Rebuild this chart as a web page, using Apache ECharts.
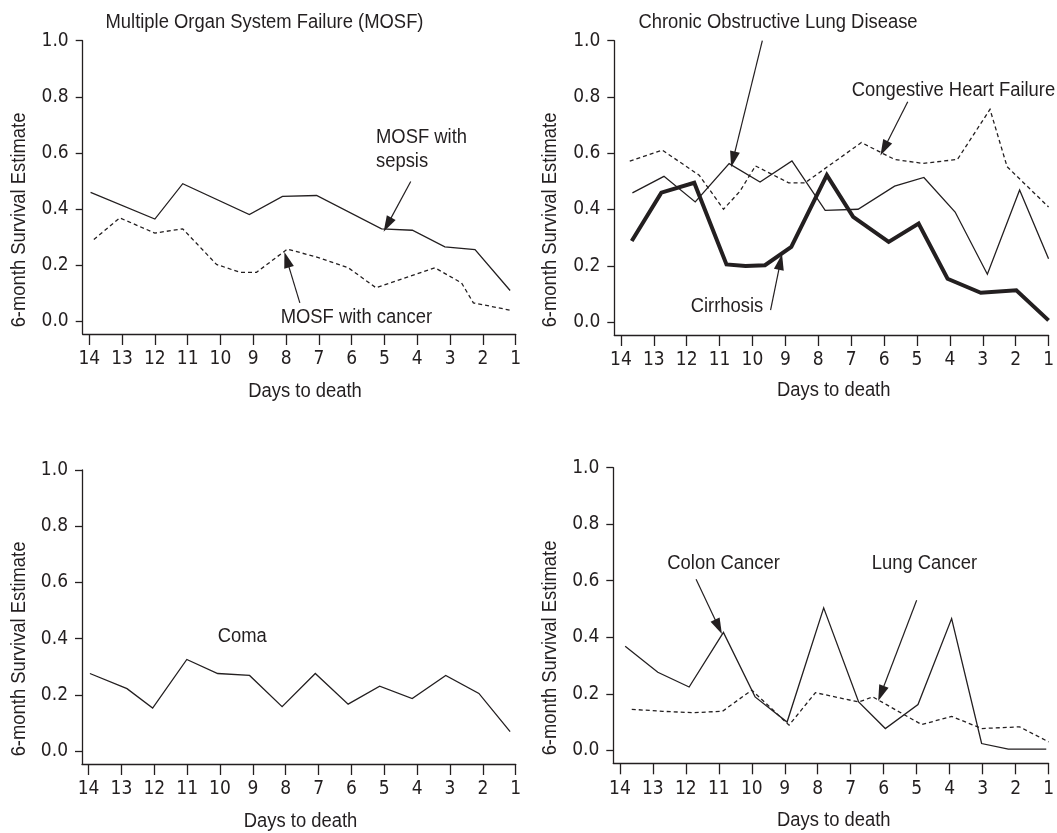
<!DOCTYPE html>
<html>
<head>
<meta charset="utf-8">
<script src="https://cdn.jsdelivr.net/npm/echarts@6/dist/echarts.min.js"></script>
<style>
html,body{margin:0;padding:0;background:#fff;}
#chart{width:1057px;height:833px;}
</style>
</head>
<body>
<div id="chart"></div>
<script>
// ---- tick labels ----
const dayTicks = [14, 13, 12, 11, 10, 9, 8, 7, 6, 5, 4, 3, 2, 1];
const survTicks = [0, 0.2, 0.4, 0.6, 0.8, 1.0];

// ---- Panel 1: MOSF ----
const sepsisDays = [13.96, 12.0, 11.15, 9.12, 8.11, 7.07, 5.09, 4.15, 3.16, 2.24, 1.17];
const sepsisSurv = [0.459, 0.364, 0.490, 0.380, 0.445, 0.448, 0.329, 0.324, 0.265, 0.255, 0.109];
const cancerDays = [13.86, 13.07, 12.0, 11.15, 10.12, 9.41, 8.90, 7.96, 6.97, 6.10, 5.26, 3.46, 2.65, 2.29, 1.17];
const cancerSurv = [0.291, 0.368, 0.314, 0.329, 0.202, 0.174, 0.174, 0.257, 0.225, 0.190, 0.119, 0.190, 0.136, 0.065, 0.039];

// ---- Panel 2: COPD / CHF / Cirrhosis ----
const copdDays = [13.65, 12.69, 11.74, 10.71, 9.77, 8.80, 7.79, 6.79, 5.68, 4.79, 3.84, 2.86, 1.88, 1.0];
const copdSurv = [0.459, 0.518, 0.427, 0.563, 0.498, 0.573, 0.397, 0.401, 0.483, 0.514, 0.391, 0.170, 0.469, 0.225];
const chfDays = [13.73, 12.74, 11.62, 10.88, 10.38, 9.91, 8.90, 8.40, 6.69, 5.68, 4.82, 3.77, 2.78, 2.26, 1.0];
const chfSurv = [0.572, 0.611, 0.522, 0.401, 0.465, 0.555, 0.495, 0.495, 0.638, 0.578, 0.564, 0.578, 0.756, 0.552, 0.409];
const cirrDays = [13.67, 12.77, 11.77, 10.79, 10.21, 9.62, 8.82, 7.74, 6.94, 5.86, 4.95, 4.07, 3.06, 1.98, 1.0];
const cirrSurv = [0.288, 0.460, 0.495, 0.205, 0.199, 0.202, 0.267, 0.522, 0.374, 0.285, 0.350, 0.154, 0.104, 0.113, 0.006];

// ---- Panel 3: Coma ----
const comaDays = [13.96, 12.83, 12.05, 11.01, 10.07, 9.10, 8.11, 7.10, 6.10, 5.14, 4.15, 3.13, 2.12, 1.17];
const comaSurv = [0.276, 0.222, 0.153, 0.326, 0.276, 0.269, 0.158, 0.276, 0.167, 0.231, 0.187, 0.269, 0.205, 0.069];

// ---- Panel 4: Colon / Lung cancer ----
const colonDays = [13.84, 12.85, 11.90, 10.86, 9.90, 8.93, 7.82, 6.76, 5.95, 4.96, 3.94, 3.03, 2.22, 1.07];
const colonSurv = [0.368, 0.276, 0.224, 0.417, 0.189, 0.100, 0.504, 0.171, 0.077, 0.162, 0.466, 0.024, 0.004, 0.004];
const lungDays = [13.64, 12.70, 11.79, 10.89, 10.0, 8.87, 8.07, 6.76, 6.33, 4.85, 3.94, 3.03, 1.88, 1.0];
const lungSurv = [0.145, 0.138, 0.133, 0.138, 0.213, 0.089, 0.204, 0.171, 0.189, 0.091, 0.120, 0.077, 0.083, 0.030];

// ---- annotation arrows (data space: [fromDay, fromSurv, toDay, toSurv]) ----
const arrowSepsis = [4.20, 0.498, 4.91, 0.344];
const arrowCancer = [7.58, 0.065, 7.98, 0.219];
const arrowCopd = [9.70, 1.0, 10.59, 0.578];
const arrowChf = [5.28, 0.783, 6.00, 0.617];
const arrowCirr = [9.45, 0.042, 9.15, 0.214];
const arrowColon = [11.69, 0.605, 11.01, 0.437];
const arrowLung = [5.00, 0.531, 6.08, 0.201];

const TICK_FONT = '"DejaVu Sans Condensed", "Liberation Sans", sans-serif';
const TEXT_FONT = '"Liberation Sans", Arial, sans-serif';
const INK = '#231f20';

const zip = (a, b) => a.map((v, i) => [v, b[i]]);

function arrow(a) {
  return {
    silent: true,
    animation: false,
    symbol: ['none', 'none'],
    label: { show: false },
    emphasis: { disabled: true },
    lineStyle: { color: INK, width: 1.2, type: 'solid' },
    itemStyle: { color: INK },
    data: [[
      { coord: [a[0], a[1]], symbol: 'none' },
      { coord: [a[2], a[3]], symbol: 'path://M5,0L10,16L0,16Z', symbolSize: [10, 16] }
    ]]
  };
}

function line(gi, days, surv, opts) {
  const s = {
    type: 'line',
    xAxisIndex: gi,
    yAxisIndex: gi,
    data: zip(days, surv),
    showSymbol: false,
    symbol: 'none',
    clip: false,
    animation: false,
    silent: true,
    lineStyle: { color: INK, width: opts.width || 1.3, type: opts.dash ? [4, 3] : 'solid', cap: 'butt', join: 'miter' },
    itemStyle: { color: INK }
  };
  if (opts.arrows) {
    s.markLine = arrow(opts.arrows[0]);
  }
  return s;
}

const grids = [
  { left: 82.7, right: 541.3, top: 40.7, bottom: 499 },
  { left: 614.3, right: 5.3, top: 40.7, bottom: 498 },
  { left: 82, right: 541.3, top: 470, bottom: 69 },
  { left: 613.3, right: 6.3, top: 467.7, bottom: 69.7 }
];

const axisLineStyle = { color: INK, width: 1.3 };

const xAxes = grids.map((g, i) => ({
  gridIndex: i,
  type: 'value',
  inverse: true,
  min: 1,
  max: 14.2,
  axisLine: { show: true, onZero: false, lineStyle: axisLineStyle },
  axisTick: { show: true, length: 11, customValues: dayTicks, lineStyle: axisLineStyle },
  axisLabel: { customValues: dayTicks, margin: 16, fontSize: 19, color: INK, fontFamily: TICK_FONT },
  splitLine: { show: false }
}));

const yAxes = grids.map((g, i) => ({
  gridIndex: i,
  type: 'value',
  min: -0.046,
  max: 1.0,
  axisLine: { show: true, onZero: false, lineStyle: axisLineStyle },
  axisTick: { show: true, length: 7, customValues: survTicks, lineStyle: axisLineStyle },
  axisLabel: { customValues: survTicks, margin: 14, fontSize: 19, color: INK, fontFamily: TICK_FONT,
    formatter: v => Number(v).toFixed(1) },
  splitLine: { show: false }
}));

const SX = 0.92;
function txt(text, x, y, align, rot) {
  return {
    type: 'text',
    x: x, y: y,
    rotation: rot || 0,
    scaleX: SX,
    silent: true,
    style: { text: text, fill: INK, font: '20px ' + TEXT_FONT, textAlign: align || 'left', textVerticalAlign: 'middle' }
  };
}

const yName = '6-month Survival Estimate';
const xName = 'Days to death';
const graphics = [
  txt('Multiple Organ System Failure (MOSF)', 264.5, 22, 'center'),
  txt('MOSF with', 376, 137, 'left'),
  txt('sepsis', 376, 161, 'left'),
  txt('MOSF with cancer', 280.7, 317, 'left'),
  txt('Chronic Obstructive Lung Disease', 778, 22, 'center'),
  txt('Congestive Heart Failure', 851.7, 90, 'left'),
  txt('Cirrhosis', 690.7, 306, 'left'),
  txt('Coma', 217.7, 636, 'left'),
  txt('Colon Cancer', 667.3, 563, 'left'),
  txt('Lung Cancer', 871.7, 563, 'left'),
  txt(yName, 19, 220, 'center', Math.PI / 2),
  txt(yName, 550, 220, 'center', Math.PI / 2),
  txt(yName, 19, 649, 'center', Math.PI / 2),
  txt(yName, 550, 648, 'center', Math.PI / 2),
  txt(xName, 305, 391, 'center'),
  txt(xName, 833.7, 390, 'center'),
  txt(xName, 300.5, 821.5, 'center'),
  txt(xName, 833.8, 820, 'center')
];

const series = [
  line(0, sepsisDays, sepsisSurv, { arrows: [arrowSepsis] }),
  line(0, cancerDays, cancerSurv, { dash: true, arrows: [arrowCancer] }),
  line(1, chfDays, chfSurv, { dash: true, arrows: [arrowChf] }),
  line(1, copdDays, copdSurv, { arrows: [arrowCopd] }),
  line(1, cirrDays, cirrSurv, { width: 4, arrows: [arrowCirr] }),
  line(2, comaDays, comaSurv, {}),
  line(3, lungDays, lungSurv, { dash: true, arrows: [arrowLung] }),
  line(3, colonDays, colonSurv, { arrows: [arrowColon] })
];

const chart = echarts.init(document.getElementById('chart'), null, { renderer: 'canvas' });
chart.setOption({
  backgroundColor: '#ffffff',
  animation: false,
  grid: grids,
  xAxis: xAxes,
  yAxis: yAxes,
  series: series,
  graphic: graphics
});
</script>
</body>
</html>
